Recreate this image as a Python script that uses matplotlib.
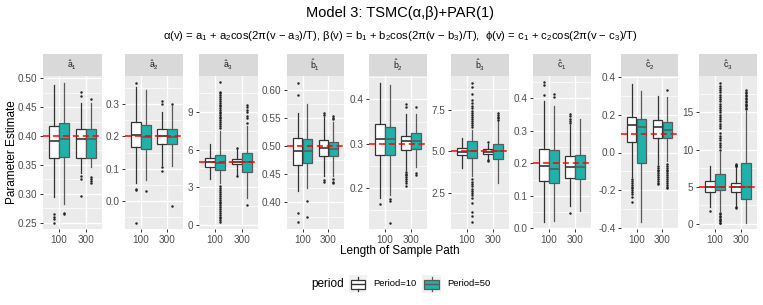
import numpy as np
import matplotlib.pyplot as plt

plt.rcParams['font.family'] = ['Liberation Sans', 'DejaVu Sans']
plt.rcParams['mathtext.fontset'] = 'custom'
plt.rcParams['mathtext.rm'] = 'Liberation Sans'
plt.rcParams['mathtext.it'] = 'Liberation Sans'
plt.rcParams['mathtext.sf'] = 'Liberation Sans'

# ---- data ----
strip_labels = [r'$\hat{\mathrm{a}}_1$', r'$\hat{\mathrm{a}}_2$', r'$\hat{\mathrm{a}}_3$',
                r'$\hat{\mathrm{b}}_1$', r'$\hat{\mathrm{b}}_2$', r'$\hat{\mathrm{b}}_3$',
                r'$\hat{\mathrm{c}}_1$', r'$\hat{\mathrm{c}}_2$', r'$\hat{\mathrm{c}}_3$']
true_vals = [0.40, 0.20, 5.0, 0.50, 0.30, 5.0, 0.20, 0.10, 5.0]
path_lengths = ['100', '300']
periods = ['Period=10', 'Period=50']

# order inside each row: (100, P10), (100, P50), (300, P10), (300, P50)
medians = [[0.391, 0.395, 0.395, 0.395],
           [0.205, 0.199, 0.201, 0.199],
           [5.04, 4.96, 5.04, 5.0],
           [0.492, 0.492, 0.497, 0.495],
           [0.311, 0.310, 0.306, 0.306],
           [4.98, 5.05, 4.98, 5.04],
           [0.193, 0.181, 0.189, 0.189],
           [0.147, 0.133, 0.133, 0.119],
           [5.01, 5.0, 5.0, 5.0]]
q1s = [[0.3615, 0.364, 0.3626, 0.3626],
       [0.168, 0.160, 0.178, 0.176],
       [4.64, 4.38, 4.86, 4.22],
       [0.467, 0.470, 0.483, 0.483],
       [0.274, 0.274, 0.285, 0.287],
       [4.78, 4.62, 4.84, 4.52],
       [0.145, 0.140, 0.156, 0.153],
       [0.058, -0.056, 0.077, 0.077],
       [4.26, 4.57, 4.34, 3.36]]
q3s = [[0.418, 0.4226, 0.4117, 0.4117],
       [0.246, 0.2345, 0.222, 0.224],
       [5.37, 5.58, 5.24, 5.72],
       [0.515, 0.512, 0.511, 0.507],
       [0.345, 0.338, 0.317, 0.323],
       [5.18, 5.63, 5.12, 5.44],
       [0.244, 0.240, 0.222, 0.225],
       [0.190, 0.177, 0.172, 0.163],
       [5.77, 6.67, 5.55, 8.15]]
whisk_lo = [[0.295, 0.283, 0.3355, 0.347],
            [0.054, 0.066, 0.111, 0.108],
            [3.64, 3.3, 3.98, 2.1],
            [0.420, 0.425, 0.446, 0.446],
            [0.176, 0.183, 0.240, 0.248],
            [3.98, 3.5, 4.52, 3.07],
            [0.020, 0.023, 0.069, 0.054],
            [-0.13, -0.37, -0.059, -0.047],
            [2.32, 1.7, 2.32, 0.17]]
whisk_hi = [[0.488, 0.492, 0.458, 0.457],
            [0.353, 0.345, 0.277, 0.295],
            [6.46, 7.5, 6.04, 7.9],
            [0.558, 0.574, 0.552, 0.543],
            [0.437, 0.432, 0.368, 0.368],
            [5.83, 6.3, 5.43, 6.85],
            [0.392, 0.376, 0.318, 0.336],
            [0.363, 0.325, 0.299, 0.294],
            [7.79, 9.7, 7.62, 15.2]]
fliers = [
    [[0.265, 0.260, 0.256, 0.250], [0.267, 0.265],
     [0.476, 0.470, 0.330, 0.326, 0.296], [0.464, 0.329, 0.326, 0.323, 0.319]],
    [[0.367, 0.037, 0.034, -0.068], [0.031],
     [0.310, 0.300, 0.106, 0.093], [0.300, -0.015]],
    [[],
     [7.7, 7.9, 8.05, 8.2, 8.35, 8.5, 8.6, 8.75, 8.9, 9.05, 9.2, 9.35, 9.5, 9.6,
      9.75, 9.9, 10.05, 10.2, 10.35, 10.5, 10.65, 11.4,
      3.1, 2.95, 2.8, 2.6, 2.45, 2.3, 2.15, 2.0, 1.85, 1.7, 1.55, 1.4, 1.25,
      1.1, 0.95, 0.8, 0.65, 0.5, 0.35, 0.2],
     [6.1, 3.9], [9.6, 9.4, 9.2, 9.0, 8.7, 8.5, 8.1, 1.58]],
    [[0.612, 0.590, 0.382, 0.365], [0.403, 0.375],
     [0.559, 0.555, 0.440, 0.437], [0.553, 0.550, 0.547, 0.441, 0.437, 0.434]],
    [[0.163], [0.174, 0.170, 0.121],
     [0.389, 0.384, 0.236, 0.232, 0.228, 0.224, 0.220, 0.216, 0.210, 0.204],
     [0.382, 0.233, 0.229]],
    [[],
     [6.5, 6.6, 6.7, 6.85, 6.95, 7.05, 7.2, 7.3, 7.45, 7.6, 7.75, 7.9, 8.1, 8.5,
      8.9, 9.15, 3.3, 3.15, 3.0, 2.9, 2.75, 2.6, 2.5, 2.35, 2.2, 1.85, 1.35,
      1.1, 0.7],
     [5.55, 4.45, 4.4], [7.3, 7.2, 7.1, 7.0, 6.9]],
    [[0.450, 0.440, 0.410], [0.412, 0.405],
     [0.350, 0.345, 0.335, 0.330, 0.325, 0.047], []],
    [[-0.14, -0.15, -0.16, -0.17, -0.18, -0.19, -0.20, -0.21, -0.22, -0.235, -0.26],
     [],
     [-0.07, -0.08, -0.09, -0.10, -0.11, -0.12, -0.13, -0.14, -0.15, -0.16, -0.167],
     [0.332, -0.06, -0.07, -0.08, -0.09, -0.10, -0.11, -0.12, -0.13, -0.14,
      -0.15, -0.16, -0.17, -0.18, -0.19]],
    [[1.78],
     [10.0, 10.3, 10.6, 10.9, 11.3, 11.6, 11.9, 12.2, 12.9, 13.2, 13.5, 13.8,
      14.1, 14.4, 14.7, 15.0, 15.3, 15.6, 15.9, 16.2, 16.5, 16.8, 17.1, 17.4,
      17.7, 18.0, 18.3, 18.6, 19.0, 1.5, 1.3, 1.1, 0.9, 0.7, 0.5, 0.35, 0.2, 0.1],
     [7.75, 7.85, 7.95, 8.05, 2.1, 2.25],
     [15.4, 15.6, 15.8, 16.0, 16.2, 16.4, 16.6, 16.8, 17.0, 17.2, 17.4, 17.6,
      17.8, 18.0]],
]
yticks = [[0.25, 0.30, 0.35, 0.40, 0.45, 0.50],
          [0.0, 0.1, 0.2, 0.3],
          [0, 3, 6, 9],
          [0.40, 0.45, 0.50, 0.55, 0.60],
          [0.2, 0.3, 0.4],
          [2.5, 5.0, 7.5],
          [0.0, 0.1, 0.2, 0.3, 0.4],
          [-0.4, -0.2, 0.0, 0.2, 0.4],
          [0, 5, 10, 15]]
ytick_labels = [['0.25', '0.30', '0.35', '0.40', '0.45', '0.50'],
                ['0.0', '0.1', '0.2', '0.3'],
                ['0', '3', '6', '9'],
                ['0.40', '0.45', '0.50', '0.55', '0.60'],
                ['0.2', '0.3', '0.4'],
                ['2.5', '5.0', '7.5'],
                ['0.0', '0.1', '0.2', '0.3', '0.4'],
                ['-0.4', '-0.2', '0.0', '0.2', '0.4'],
                ['0', '5', '10', '15']]
ylims = [(0.239, 0.504), (-0.088, 0.388), (-0.35, 11.9), (0.353, 0.624),
         (0.107, 0.453), (0.305, 9.56), (-0.002, 0.468), (-0.405, 0.405),
         (-0.67, 19.9)]

# ---- layout (pixels) ----
W, H = 763, 305
panel_x = [(43, 102), (125, 183), (199, 258), (287, 344), (369, 427),
           (451, 509), (533, 591), (621, 678), (699, 757)]
top, bottom, strip_top = 76, 229, 54

teal = '#20B2AA'
fills = ['white', teal]
edges = ['#333333', '#5a5a5a']

fig = plt.figure(figsize=(W / 100, H / 100), dpi=100)

def px_axes(x0, y0, x1, y1):
    return fig.add_axes([x0 / W, 1 - y1 / H, (x1 - x0) / W, (y1 - y0) / H])

bw = 0.375
for i in range(9):
    x0, x1 = panel_x[i]
    ax = px_axes(x0, top, x1, bottom)
    ax.set_facecolor('#EBEBEB')
    for s in ax.spines.values():
        s.set_visible(False)

    for g in range(4):
        li = g // 2
        pi = g % 2
        pos = li + 1 + (pi - 0.5) * bw
        st = [dict(med=medians[i][g], q1=q1s[i][g], q3=q3s[i][g],
                   whislo=whisk_lo[i][g], whishi=whisk_hi[i][g],
                   fliers=fliers[i][g])]
        ax.bxp(st, positions=[pos], widths=bw * 0.98, patch_artist=True,
               showcaps=False, manage_ticks=False,
               boxprops=dict(facecolor=fills[pi], edgecolor=edges[pi], lw=0.9),
               medianprops=dict(color=edges[pi], lw=1.2),
               whiskerprops=dict(color=edges[pi], lw=0.9),
               flierprops=dict(marker='o', markersize=1.4, markerfacecolor='#222222',
                               markeredgecolor='#222222', markeredgewidth=0.3),
               zorder=2)
    ax.axhline(true_vals[i], color='red', lw=1.1, ls=(0, (4, 2.5)), zorder=5)

    ax.set_xlim(0.4, 2.6)
    ax.set_ylim(*ylims[i])
    ax.set_yticks(yticks[i])
    ax.set_yticklabels(ytick_labels[i])
    t = yticks[i]
    minors = [(t[k] + t[k + 1]) / 2 for k in range(len(t) - 1)]
    step = t[1] - t[0]
    minors += [t[0] - step / 2, t[-1] + step / 2]
    for m in minors:
        ax.axhline(m, color='white', lw=0.5, zorder=0)
    for m in t:
        ax.axhline(m, color='white', lw=1.0, zorder=0)
    for m in (1, 2):
        ax.axvline(m, color='white', lw=1.0, zorder=0)
    ax.set_xticks([1, 2])
    ax.set_xticklabels(path_lengths)
    ax.tick_params(axis='both', colors='#333333', labelcolor='#4D4D4D',
                   labelsize=7.2, length=2.5, width=0.7, pad=1.5)

    sax = px_axes(x0, strip_top, x1, top)
    sax.set_facecolor('#D9D9D9')
    sax.set_xticks([])
    sax.set_yticks([])
    for s in sax.spines.values():
        s.set_visible(False)
    sax.text(0.5, 0.5, strip_labels[i], ha='center', va='center', fontsize=6.3,
             color='#1A1A1A', transform=sax.transAxes)

fig.text(400 / W, 1 - 13 / H, 'Model 3: TSMC(α,β)+PAR(1)', ha='center',
         va='center', fontsize=10.5)
fig.text(400 / W, 1 - 36 / H,
         'α(v) = a$_1$ + a$_2$cos(2π(v − a$_3$)/T), β(v) = b$_1$ + b$_2$cos(2π(v − b$_3$)/T),  '
         'ϕ(v) = c$_1$ + c$_2$cos(2π(v − c$_3$)/T)',
         ha='center', va='center', fontsize=8.1)
fig.text(12 / W, 1 - 152 / H, 'Parameter Estimate', rotation=90, ha='center',
         va='center', fontsize=8.5)
fig.text(400 / W, 1 - 251 / H, 'Length of Sample Path', ha='center',
         va='center', fontsize=8.5)

# legend
fig.text(311 / W, 1 - 284 / H, 'period', ha='left', va='center', fontsize=8.5)
key_x = [(349, 367), (422, 441)]
lab_x = [373, 447]
for k in range(2):
    kx0, kx1 = key_x[k]
    kax = px_axes(kx0, 275, kx1, 293)
    kax.set_facecolor('#F2F2F2')
    kax.bxp([dict(med=0.5, q1=0.25, q3=0.75, whislo=0.1, whishi=0.9, fliers=[])],
            positions=[0.5], widths=0.75, patch_artist=True, showcaps=False,
            manage_ticks=False,
            boxprops=dict(facecolor=fills[k], edgecolor=edges[k], lw=0.9),
            medianprops=dict(color=edges[k], lw=1.0),
            whiskerprops=dict(color=edges[k], lw=0.9))
    kax.set_xlim(0, 1)
    kax.set_ylim(0, 1)
    kax.set_xticks([])
    kax.set_yticks([])
    for s in kax.spines.values():
        s.set_visible(False)
    fig.text(lab_x[k] / W, 1 - 284 / H, periods[k], ha='left', va='center',
             fontsize=6.8)

fig.savefig('out.png', dpi=100)
